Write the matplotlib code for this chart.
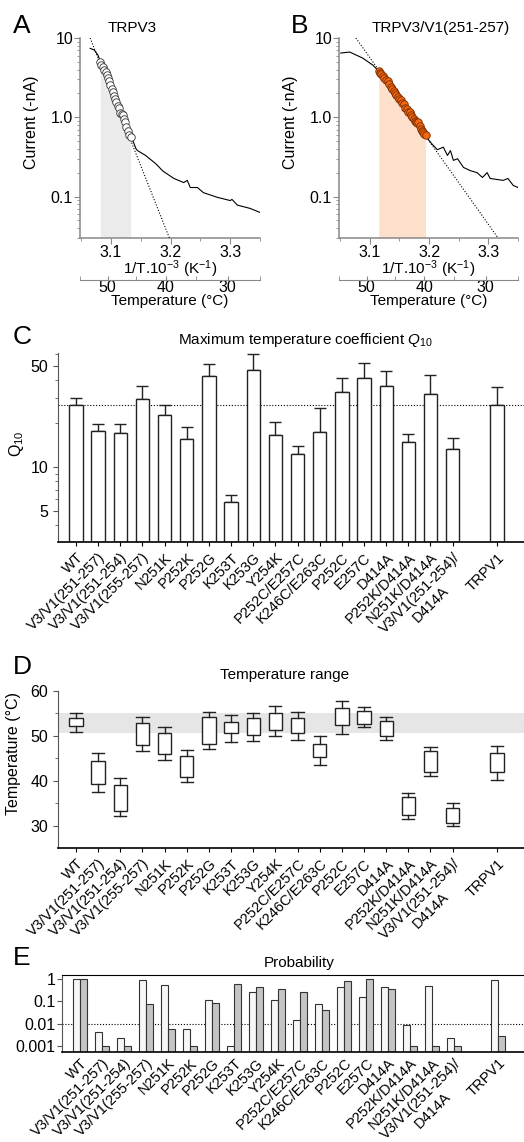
import numpy as np
import matplotlib
matplotlib.use('Agg')
import matplotlib.pyplot as plt
from matplotlib.ticker import NullFormatter, LogLocator

plt.rcParams['font.family'] = ['Liberation Sans', 'DejaVu Sans']
plt.rcParams['font.size'] = 10.5
plt.rcParams['mathtext.fontset'] = 'custom'
plt.rcParams['mathtext.rm'] = 'Liberation Sans'
plt.rcParams['mathtext.it'] = 'Liberation Sans:italic'

W, H = 524, 1142

# ---------------- A: TRPV3 Arrhenius plot ----------------
a_invT = [3.065, 3.072, 3.078, 3.082, 3.087, 3.091, 3.095, 3.099, 3.103, 3.107,
          3.111, 3.115, 3.120, 3.124, 3.128, 3.133, 3.137, 3.142, 3.1445, 3.158,
          3.175, 3.187, 3.205, 3.222, 3.228, 3.233, 3.245, 3.255, 3.278, 3.300,
          3.303, 3.312, 3.333, 3.350]
a_cur = [7.4, 7.05, 6.1, 5.1, 4.3, 3.72, 3.12, 2.54, 2.07, 1.72,
         1.40, 1.12, 1.06, 0.88, 0.68, 0.56, 0.50, 0.40, 0.38, 0.33,
         0.26, 0.21, 0.17, 0.15, 0.16, 0.13, 0.13, 0.112, 0.098, 0.089,
         0.092, 0.078, 0.071, 0.063]
a_fit_invT = [3.065, 3.198]
a_fit_cur = [10.0, 0.03]
a_circ_invT = [3.082, 3.084, 3.087, 3.089, 3.091, 3.093, 3.095, 3.097, 3.099, 3.101,
               3.103, 3.105, 3.107, 3.109, 3.111, 3.113, 3.115, 3.118, 3.120, 3.122,
               3.124, 3.126, 3.128, 3.130, 3.133]
a_circ_cur = [4.97, 4.6, 4.30, 4.0, 3.72, 3.4, 3.12, 2.85, 2.54, 2.3,
              2.07, 1.85, 1.72, 1.58, 1.40, 1.30, 1.12, 1.10, 1.06, 0.96,
              0.88, 0.76, 0.68, 0.60, 0.56]

# ---------------- B: TRPV3/V1(251-257) ----------------
b_invT = [3.051, 3.066, 3.088, 3.105, 3.115, 3.130, 3.147, 3.160, 3.170, 3.180,
          3.188, 3.194, 3.199, 3.206, 3.214, 3.224, 3.231, 3.236, 3.241, 3.248,
          3.258, 3.269, 3.281, 3.290, 3.298, 3.303, 3.325, 3.333, 3.342, 3.350]
b_cur = [6.46, 6.65, 5.58, 4.55, 3.82, 2.90, 1.80, 1.32, 1.06, 0.84,
         0.68, 0.59, 0.52, 0.45, 0.39, 0.42, 0.33, 0.38, 0.286, 0.30,
         0.233, 0.213, 0.20, 0.174, 0.20, 0.169, 0.16, 0.169, 0.138, 0.13]
b_fit_invT = [3.0765, 3.3164]
b_fit_cur = [10.0, 0.03]
b_circ_invT = [3.115, 3.117, 3.119, 3.122, 3.124, 3.127, 3.130, 3.132, 3.135, 3.138,
               3.140, 3.142, 3.145, 3.147, 3.150, 3.152, 3.155, 3.157, 3.160, 3.162,
               3.165, 3.167, 3.170, 3.172, 3.174, 3.176, 3.178, 3.180, 3.182, 3.184,
               3.186, 3.188, 3.190, 3.192, 3.194]
b_circ_cur = [3.82, 3.65, 3.50, 3.35, 3.15, 2.98, 2.90, 2.62, 2.42, 2.30,
              2.12, 2.05, 1.90, 1.80, 1.70, 1.64, 1.52, 1.48, 1.32, 1.28,
              1.18, 1.15, 1.06, 1.02, 0.95, 0.90, 0.87, 0.84, 0.86, 0.78,
              0.72, 0.68, 0.66, 0.62, 0.59]

temp_major = [50, 40, 30]
temp_minor = [55, 45, 35, 25]

# ---------------- C-E: constructs ----------------
constructs = ['WT', 'V3/V1(251-257)', 'V3/V1(251-254)', 'V3/V1(255-257)', 'N251K',
              'P252K', 'P252G', 'K253T', 'K253G', 'Y254K', 'P252C/E257C',
              'K246C/E263C', 'P252C', 'E257C', 'D414A', 'P252K/D414A',
              'N251K/D414A', 'V3/V1(251-254)/\nD414A', 'TRPV1']
xpos = list(range(18)) + [19]

q10 = [26.6, 17.7, 17.3, 29.5, 23.0, 15.6, 42.7, 5.73, 46.7, 16.7,
       12.4, 17.5, 33.0, 40.9, 36.3, 15.0, 32.0, 13.3, 26.6]
q10_err = [3.1, 2.2, 2.6, 6.6, 3.6, 3.3, 8.6, 0.73, 13.3, 3.7,
           1.5, 8.1, 8.1, 11.2, 9.4, 2.0, 10.8, 2.6, 9.1]
q10_wt = 26.6

t_min = [50.8, 37.4, 32.1, 46.7, 44.7, 39.7, 47.0, 48.7, 48.8, 49.9,
         49.1, 43.6, 50.5, 52.0, 49.1, 31.5, 41.1, 29.8, 40.2]
t_q1 = [52.2, 39.3, 33.2, 48.0, 45.9, 40.9, 48.1, 50.6, 50.2, 51.2,
        50.6, 45.3, 52.4, 52.6, 49.9, 32.4, 42.0, 30.6, 42.0]
t_q3 = [53.9, 44.5, 39.0, 52.8, 50.7, 45.6, 54.2, 53.0, 53.9, 55.2,
        54.0, 48.1, 56.3, 55.6, 53.3, 36.3, 46.7, 33.9, 46.2]
t_max = [55.0, 46.2, 40.6, 54.2, 51.9, 46.9, 55.4, 54.7, 55.2, 56.7,
         55.4, 49.9, 57.8, 56.4, 54.2, 37.3, 47.5, 35.0, 47.8]
wt_band = (50.7, 55.0)

prob_1 = [1.0, 0.0041, 0.0022, 0.93, 0.55, 0.006, 0.11, 0.001, 0.26, 0.11,
          0.014, 0.076, 0.43, 0.155, 0.43, 0.0088, 0.5, 0.0022, 0.9]
prob_2 = [1.0, 0.001, 0.001, 0.076, 0.006, 0.001, 0.083, 0.6, 0.45, 0.37,
          0.27, 0.041, 0.82, 1.0, 0.38, 0.001, 0.001, 0.001, 0.0029]

fig = plt.figure(figsize=(W / 100, H / 100), dpi=100)


def frac(x0, y_top, x1, y_bot):
    return [x0 / W, 1 - y_bot / H, (x1 - x0) / W, (y_bot - y_top) / H]


def arrhenius(rect, tx, ty, fx, fy, cx, cy, shade, mfc, mec, title, title_x):
    ax = fig.add_axes(rect)
    ax.set_yscale('log')
    ax.fill_between(cx, 0.03, cy, color=shade, lw=0, zorder=0)
    ax.plot(tx, ty, color='k', lw=0.8, zorder=2)
    ax.plot(fx, fy, color='k', ls=(0, (1, 1.6)), lw=0.8, zorder=3)
    ax.plot(cx, cy, 'o', ms=5.4, mfc=mfc, mec=mec, mew=0.6, zorder=4)
    ax.set_xlim(3.048, 3.35)
    ax.set_ylim(0.03, 10)
    ax.set_xticks([3.1, 3.2, 3.3], labels=['3.1', '3.2', '3.3'])
    ax.set_xticks([3.05, 3.15, 3.25, 3.35], minor=True)
    ax.set_yticks([0.1, 1, 10], labels=['0.1', '1.0', '10'])
    ax.yaxis.set_minor_locator(LogLocator(subs=np.arange(2, 10)))
    ax.yaxis.set_minor_formatter(NullFormatter())
    for s in ['top', 'right']:
        ax.spines[s].set_visible(False)
    for s in ['left', 'bottom']:
        ax.spines[s].set_color('#888888')
        ax.spines[s].set_linewidth(1.1)
    ax.tick_params(which='both', color='#888888', labelsize=11.5)
    ax.tick_params(which='major', length=4, pad=1)
    ax.tick_params(which='minor', length=2.5)
    ax.set_xlabel('1/T.10$^{-3}$ (K$^{-1}$)', fontsize=11, labelpad=-1)
    ax.set_ylabel('Current (-nA)', fontsize=11.5)
    ax.yaxis.set_label_coords(-0.23, 0.58)
    fig.text(title_x / W, 1 - 28 / H, title, ha='center', va='center', fontsize=11)

    axt = fig.add_axes([rect[0], rect[1] - 42 / H, rect[2], 0.0005])
    axt.set_xlim(ax.get_xlim())
    for s in ['top', 'left', 'right']:
        axt.spines[s].set_visible(False)
    axt.spines['bottom'].set_color('#888888')
    axt.set_yticks([])
    axt.set_xticks([1000 / (t + 273.15) for t in temp_major],
                   labels=[str(t) for t in temp_major])
    axt.set_xticks([1000 / (t + 273.15) for t in temp_minor], minor=True)
    axt.tick_params(which='both', color='#888888', direction='in', length=3,
                    labelsize=11.5, pad=0)
    axt.set_xlabel('Temperature (°C)', fontsize=11, labelpad=-1)
    axt.patch.set_visible(False)
    return ax


arrhenius(frac(80, 38, 260, 238), a_invT, a_cur, a_fit_invT, a_fit_cur,
          a_circ_invT, a_circ_cur, '#ebebeb', 'white', '#333333', 'TRPV3', 132)
arrhenius(frac(339, 38, 518, 238), b_invT, b_cur, b_fit_invT, b_fit_cur,
          b_circ_invT, b_circ_cur, '#fde0cc', '#f26a10', '#7a2a00',
          'TRPV3/V1(251-257)', 441)


def category_axis(ax):
    ax.set_xticks(xpos, labels=constructs)
    plt.setp(ax.get_xticklabels(), rotation=45, ha='right', va='top',
             rotation_mode='anchor', fontsize=10.5)
    ax.get_xticklabels()[17].set_multialignment('center')
    ax.tick_params(axis='x', length=3, pad=3)
    for s in ['top', 'right']:
        ax.spines[s].set_visible(False)
    ax.spines['left'].set_color('#555555')
    ax.spines['bottom'].set_linewidth(1.2)


# ---------------- C ----------------
axc = fig.add_axes(frac(58, 353, 524, 542))
axc.set_yscale('log')
c_lo = 3.05
axc.bar(xpos, np.array(q10) - c_lo, bottom=c_lo, width=0.6, color='white',
        edgecolor='#222222', lw=1.0, zorder=2)
axc.errorbar(xpos, q10, yerr=[np.zeros(len(q10)), q10_err], fmt='none',
             ecolor='#222222', elinewidth=1.0, capsize=4.3, capthick=1.0, zorder=1)
axc.axhline(q10_wt, color='k', ls=(0, (1, 1.6)), lw=0.8, zorder=0)
axc.set_xlim(-0.81, 20.22)
axc.set_ylim(c_lo, 61)
axc.set_yticks([5, 10, 50], labels=['5', '10', '50'])
axc.yaxis.set_minor_locator(LogLocator(subs=np.arange(2, 10)))
axc.yaxis.set_minor_formatter(NullFormatter())
axc.tick_params(axis='y', which='both', labelsize=11.5, color='#555555')
axc.tick_params(axis='y', which='minor', length=2.5)
category_axis(axc)
axc.set_ylabel('Q$_{\\mathrm{10}}$', fontsize=11.5)
axc.yaxis.set_label_coords(-0.069, 0.52)

# ---------------- D ----------------
axd = fig.add_axes(frac(58, 691, 524, 848))
axd.axhspan(wt_band[0], wt_band[1], color='#e6e6e6', lw=0, zorder=0)
stats = [dict(med=q1, q1=q1, q3=q3, whislo=lo, whishi=hi, fliers=[])
         for lo, q1, q3, hi in zip(t_min, t_q1, t_q3, t_max)]
axd.bxp(stats, positions=xpos, widths=0.6, capwidths=0.55, patch_artist=True,
        showfliers=False, manage_ticks=False,
        boxprops=dict(facecolor='white', edgecolor='#222222', lw=1.0),
        whiskerprops=dict(color='#222222', lw=1.0),
        capprops=dict(color='#222222', lw=1.0),
        medianprops=dict(color='none'))
axd.set_xlim(-0.81, 20.22)
axd.set_ylim(25, 60)
axd.set_yticks([30, 40, 50, 60])
axd.set_yticks([35, 45, 55], minor=True)
axd.tick_params(axis='y', which='both', labelsize=11.5, color='#555555')
axd.tick_params(axis='y', which='minor', length=2.5)
category_axis(axd)
axd.set_ylabel('Temperature (°C)', fontsize=11.5)
axd.yaxis.set_label_coords(-0.079, 0.6)

# ---------------- E ----------------
axe = fig.add_axes(frac(62, 975, 524, 1051.7))
axe.set_yscale('log')
e_lo = 5.4e-4
xp = np.array(xpos, dtype=float)
axe.bar(xp - 0.16, np.array(prob_1) - e_lo, bottom=e_lo, width=0.3,
        color='#f7f7f7', edgecolor='#333333', lw=0.8, zorder=2)
axe.bar(xp + 0.16, np.array(prob_2) - e_lo, bottom=e_lo, width=0.3,
        color='#c4c4c4', edgecolor='#333333', lw=0.8, zorder=2)
axe.axhline(0.01, color='k', ls=(0, (1, 1.6)), lw=0.8, zorder=0)
axe.set_xlim(-0.82, 20.18)
axe.set_ylim(e_lo, 1.55)
axe.set_yticks([0.001, 0.01, 0.1, 1], labels=['0.001', '0.01', '0.1', '1'])
axe.yaxis.set_minor_locator(LogLocator(subs=np.arange(2, 10)))
axe.yaxis.set_minor_formatter(NullFormatter())
axe.tick_params(axis='y', which='both', labelsize=11.5, color='#555555', pad=1)
axe.tick_params(axis='y', which='minor', length=2.5)
category_axis(axe)
axe.spines['top'].set_visible(True)
axe.tick_params(axis='x', length=0)

# ---------------- titles and panel letters ----------------
fig.text(305 / W, 1 - 340 / H, 'Maximum temperature coefficient $Q_{10}$',
         ha='center', va='center', fontsize=11)
fig.text(285 / W, 1 - 675 / H, 'Temperature range', ha='center', va='center',
         fontsize=11)
fig.text(299 / W, 1 - 963 / H, 'Probability', ha='center', va='center',
         fontsize=11)
for letter, x, y in [('A', 22, 26), ('B', 300, 26), ('C', 22, 337),
                     ('D', 22, 667), ('E', 22, 958)]:
    fig.text(x / W, 1 - y / H, letter, ha='center', va='center', fontsize=19)

fig.savefig('out.png', dpi=100)
